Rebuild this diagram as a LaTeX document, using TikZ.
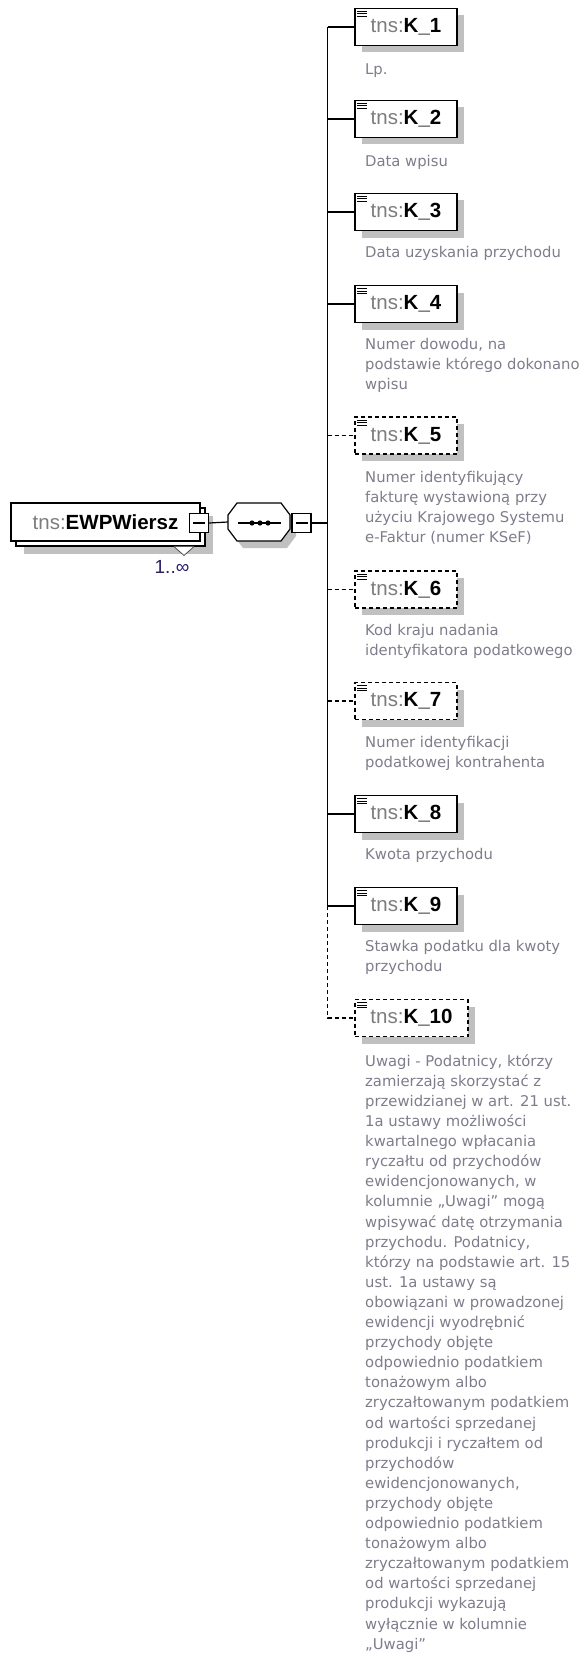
\documentclass[tikz,border=0pt]{standalone}
\usepackage{fontspec}
\setmainfont{DejaVu Sans}
\newfontfamily\arialf{Liberation Sans}
\usetikzlibrary{shadows,calc}
\definecolor{desccol}{RGB}{125,125,140}
\definecolor{nscol}{RGB}{125,125,125}
\definecolor{occcol}{RGB}{40,30,100}
\definecolor{shadowcol}{RGB}{192,192,192}
\begin{document}
\begin{tikzpicture}[x=1pt,y=-1pt,
  shadowed/.style={drop shadow={shadow xshift=7pt,shadow yshift=-7pt,fill=shadowcol,opacity=1}},
  elem/.style={draw,line width=1.2pt,fill=white,minimum width=102pt,minimum height=37pt,inner sep=0pt,
    font=\arialf\fontsize{20.5}{24}\selectfont,shadowed},
  optelem/.style={elem,dash pattern=on 4pt off 3pt},
  desc/.style={anchor=north west,inner sep=0pt,align=left,text=desccol,font=\fontsize{14.8}{20.1}\selectfont},
  conn/.style={line width=1.2pt},
  optconn/.style={conn,dash pattern=on 4pt off 3pt},
  minusbox/.style={draw,line width=1.4pt,fill=white,minimum width=19pt,minimum height=19pt,inner sep=0pt},
  iconline/.style={line width=0.8pt}
]
\useasboundingbox (0,0) rectangle (586,1656);
\newcommand{\tname}[1]{\textcolor{nscol}{tns:}\textbf{#1}}

% root element (repeated, 1..inf)
\node[draw,line width=1.2pt,fill=white,minimum width=189pt,minimum height=38pt,inner sep=0pt,
  drop shadow={shadow xshift=8pt,shadow yshift=-8pt,fill=shadowcol,opacity=1}] (rootback) at (110.5,527) {};
\node[draw,line width=1.2pt,fill=white,minimum width=189pt,minimum height=38pt,inner sep=0pt,
  font=\arialf\fontsize{20.5}{24}\selectfont] (root) at (105.5,522) {\textcolor{nscol}{tns:}\textbf{EWPWiersz}\hspace{6pt}};
\node[minusbox] (rootminus) at (199,523) {};
\draw[line width=1.2pt] ($(rootminus.center)+(-6,0)$) -- ($(rootminus.center)+(6,0)$);
\fill[white] (174,546.6) -- (184,555.5) -- (194,546.6) -- cycle;
\draw[line width=0.8pt,black!70] (174,546.6) -- (184,555.5) -- (194,546.6);
\node[font=\arialf\fontsize{19}{22}\selectfont,text=occcol,inner sep=0pt] (occ) at (172,567) {1..∞};

% sequence compositor
\node[minimum width=62pt,minimum height=38pt,inner sep=0pt] (seq) at (259,522) {};
\fill[shadowcol] ($(seq.center)+(6,7)$) ++(-31,-7) -- ++(9,-12) -- ++(44,0) -- ++(9,12) -- ++(0,14) -- ++(-9,12) -- ++(-44,0) -- ++(-9,-12) -- cycle;
\draw[line width=1.2pt,fill=white] (seq.center) ++(-31,-7) -- ++(9,-12) -- ++(44,0) -- ++(9,12) -- ++(0,14) -- ++(-9,12) -- ++(-44,0) -- ++(-9,-12) -- cycle;
\draw[line width=1.2pt] ($(seq.center)+(-21,1)$) -- ($(seq.center)+(22,1)$);
\foreach \dx in {-7,1,9} \fill ($(seq.center)+(\dx,1)$) circle (2.6pt);
\node[minusbox] (seqminus) at (301.5,523) {};
\draw[line width=1.2pt] ($(seqminus.center)+(-6,0)$) -- ($(seqminus.center)+(6,0)$);
\coordinate (trunk) at (327.5,523);
\draw[conn] (rootminus.east) -- (seq.west);
\draw[conn] (seqminus.east) -- (trunk);

% child elements
\node[elem]    (k1)  at (406,27)    {\tname{K\_1}};
\node[elem]    (k2)  at (406,119)   {\tname{K\_2}};
\node[elem]    (k3)  at (406,212)   {\tname{K\_3}};
\node[elem]    (k4)  at (406,304)   {\tname{K\_4}};
\node[optelem] (k5)  at (406,435.5) {\tname{K\_5}};
\node[optelem] (k6)  at (406,589.5) {\tname{K\_6}};
\node[optelem] (k7)  at (406,701)   {\tname{K\_7}};
\node[elem]    (k8)  at (406,814)   {\tname{K\_8}};
\node[elem]    (k9)  at (406,906)   {\tname{K\_9}};
\node[optelem,minimum width=113pt] (k10) at (411.5,1018) {\tname{K\_10}};

\foreach \n in {k1,k2,k3,k4,k5,k6,k7,k8,k9,k10}{
  \foreach \dy in {3.5,6,8.5}
    \draw[iconline] ($(\n.north west)+(3,\dy)$) -- ++(10,0);
}

% connectors
\draw[conn] (k1.west -| trunk) -- (k9.west -| trunk);
\draw[optconn] (k9.west -| trunk) |- (k10.west);
\foreach \n in {k1,k2,k3,k4,k8,k9} \draw[conn] (\n.west -| trunk) -- (\n.west);
\foreach \n in {k5,k6,k7} \draw[optconn] (\n.west -| trunk) -- (\n.west);

% descriptions
\node[desc] (d1) at (365,60) {\strut Lp.};
\node[desc] (d2) at (365,152) {\strut Data wpisu};
\node[desc] (d3) at (365,243) {\strut Data uzyskania przychodu};
\node[desc] (d4) at (365,335) {\strut Numer dowodu, na\\podstawie którego dokonano\\wpisu};
\node[desc] (d5) at (365,468) {\strut Numer identyfikujący\\fakturę wystawioną przy\\użyciu Krajowego Systemu\\e-Faktur (numer KSeF)};
\node[desc] (d6) at (365,621) {\strut Kod kraju nadania\\identyfikatora podatkowego};
\node[desc] (d7) at (365,733) {\strut Numer identyfikacji\\podatkowej kontrahenta};
\node[desc] (d8) at (365,845) {\strut Kwota przychodu};
\node[desc] (d9) at (365,937) {\strut Stawka podatku dla kwoty\\przychodu};
\node[desc] (d10) at (365,1052) {\strut Uwagi - Podatnicy, którzy\\zamierzają skorzystać z\\przewidzianej w art. 21 ust.\\1a ustawy możliwości\\kwartalnego wpłacania\\ryczałtu od przychodów\\ewidencjonowanych, w\\kolumnie „Uwagi” mogą\\wpisywać datę otrzymania\\przychodu. Podatnicy,\\którzy na podstawie art. 15\\ust. 1a ustawy są\\obowiązani w prowadzonej\\ewidencji wyodrębnić\\przychody objęte\\odpowiednio podatkiem\\tonażowym albo\\zryczałtowanym podatkiem\\od wartości sprzedanej\\produkcji i ryczałtem od\\przychodów\\ewidencjonowanych,\\przychody objęte\\odpowiednio podatkiem\\tonażowym albo\\zryczałtowanym podatkiem\\od wartości sprzedanej\\produkcji wykazują\\wyłącznie w kolumnie\\„Uwagi”};
\end{tikzpicture}
\end{document}
